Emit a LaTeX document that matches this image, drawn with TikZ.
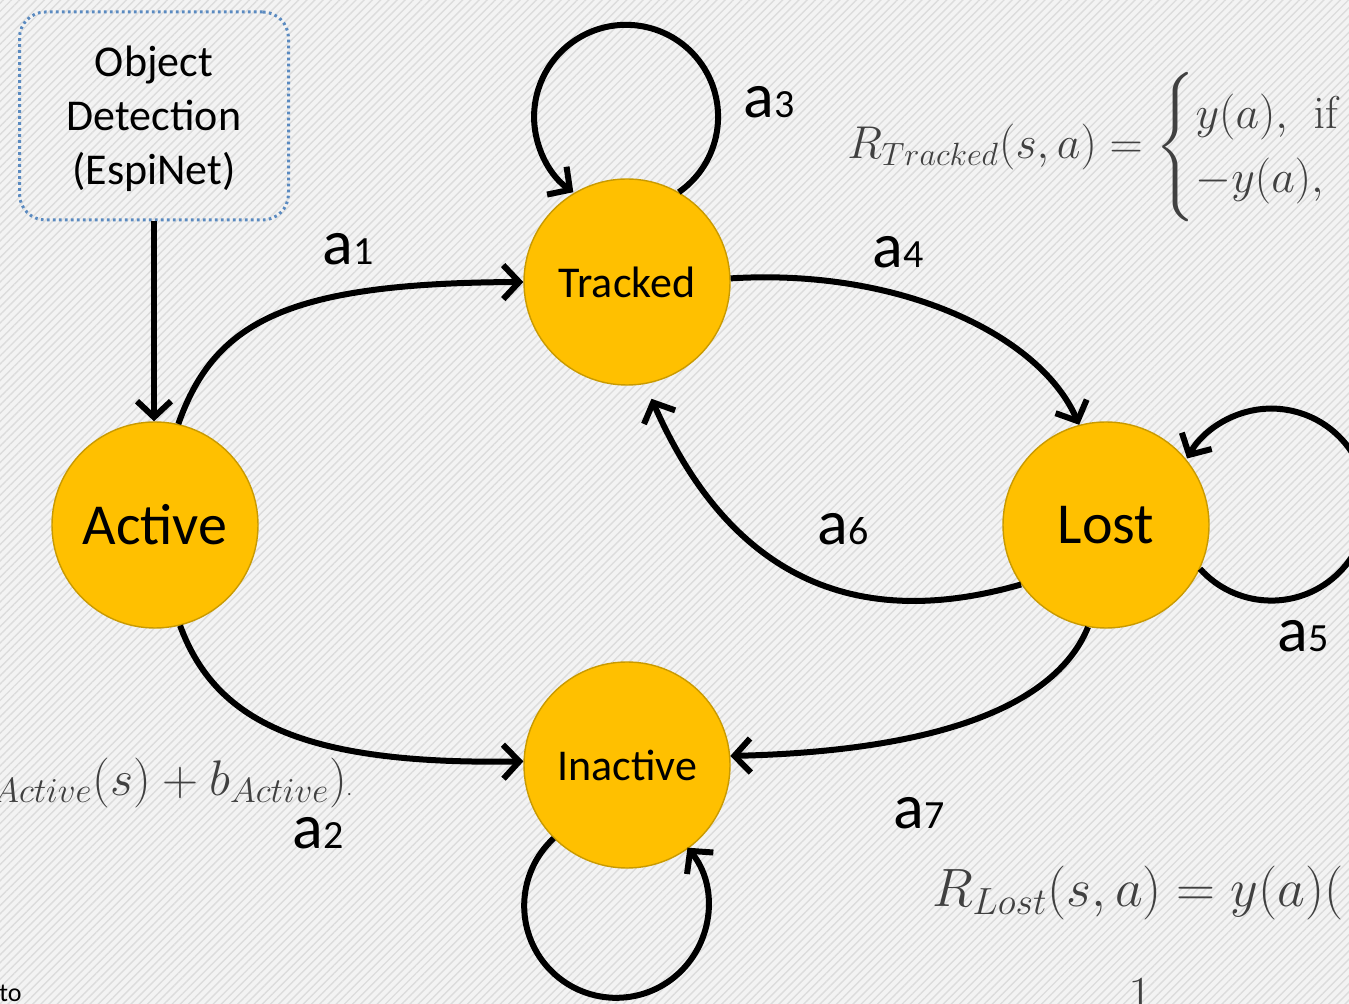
\RequirePackage{fix-cm}
\documentclass[tikz,border=0pt]{standalone}
\usepackage{amsmath}
\usepackage[no-math]{fontspec}
\setmainfont{Carlito}
\usetikzlibrary{arrows.meta,patterns.meta}
\definecolor{bgcol}{HTML}{F3F3F3}
\definecolor{hatch}{HTML}{DCDCDC}
\definecolor{gold}{HTML}{FFC000}
\definecolor{goldedge}{HTML}{C99A00}
\definecolor{boxblue}{HTML}{5A8AC0}
\definecolor{formula}{HTML}{404040}
\begin{document}
\begin{tikzpicture}[x=0.5pt,y=-0.5pt,
  state/.style={circle,fill=gold,draw=goldedge,line width=0.7pt,minimum size=103pt,inner sep=0pt},
  bigtxt/.style={font=\fontsize{29}{32}\selectfont},
  midtxt/.style={font=\fontsize{22}{26}\selectfont},
  arr/.style={line width=3pt,-{Straight Barb[length=8pt,width=17pt]}},
  lbl/.style={anchor=base west,inner sep=0pt,font=\fontsize{32}{36}\selectfont},
  eq/.style={text=formula,inner sep=0pt},
]
\useasboundingbox (0,0) rectangle (1349,1004);
\clip (0,0) rectangle (1349,1004);
\fill[bgcol] (0,0) rectangle (1349,1004);
\fill[pattern={Lines[angle=45,distance=2.9pt,line width=0.7pt]},pattern color=hatch] (0,0) rectangle (1349,1004);

% formulas
\node[eq,anchor=base west,font=\fontsize{23}{27}\selectfont] (rtr) at (847,159)
  {$R_{Tracked}(s,a)=\begin{cases}y(a),~\,\mathrm{if}~c\\ -y(a),~\,\mathrm{otherwise}\end{cases}$};
\node[eq,anchor=base west,font=\fontsize{27}{31}\selectfont] (rlost) at (932,906)
  {$R_{Lost}(s,a)=y(a)($};
\node[eq,anchor=base east,font=\fontsize{25}{29}\selectfont] (ract) at (352,795)
  {$\phi_{Active}(s)+b_{Active})${\fontsize{9}{9}\selectfont.}};
\node[eq,anchor=base,font=\fontsize{26}{30}\selectfont] (one) at (1140,1012) {$1$};
\node[anchor=base west,inner sep=0pt,font=\fontsize{13}{15}\selectfont] (to) at (-1,1001) {to};

% states
\node[state,bigtxt] (active) at (155,525) {Active};
\node[state,midtxt] (tracked) at (627,282) {Tracked};
\node[state,bigtxt] (lost) at (1106,525) {Lost};
\node[state,midtxt] (inactive) at (627,765) {Inactive};
\node[draw=boxblue,line width=1.5pt,dash pattern=on 1.3pt off 1.7pt,rounded corners=13pt,
      minimum width=134.5pt,minimum height=104pt,inner sep=0pt] (det) at (154,116) {};
\node[align=center,font=\fontsize{22}{27}\selectfont,inner sep=0pt] (dettext) at (154,119) {Object\\Detection\\(EspiNet)};

% connectors
\draw[arr] (det.south) -- (det.south |- active.north);
\draw[arr] (active.77) .. controls (215,320) and (290,283) .. (tracked.180);
\draw[arr] (active.-76) .. controls (215,720) and (300,765) .. (inactive.178);
\draw[arr] (tracked.60) arc[start angle=55, end angle=-235, radius=92];
\draw[arr] (tracked.2) .. controls (900,268) and (1040,335) .. (lost.105);
\draw[arr] (lost.-25) arc[start angle=138, end angle=-151.3, radius=96];
\draw[arr,shorten >=8pt] (lost.215) .. controls (880,625) and (740,600) .. (tracked.-80);
\draw[arr] (lost.-100) .. controls (1050,720) and (900,752) .. (inactive.5);
\draw[arr] (inactive.-135) arc[start angle=-132.8, end angle=-399.2, radius=92];

% labels
\node[lbl] (l1) at (322,265) {a{\fontsize{20}{20}\selectfont 1}};
\node[lbl] (l2) at (292,848) {a{\fontsize{20}{20}\selectfont 2}};
\node[lbl] (l3) at (743,118) {a{\fontsize{20}{20}\selectfont 3}};
\node[lbl] (l4) at (872,268) {a{\fontsize{20}{20}\selectfont 4}};
\node[lbl] (l5) at (1277,652) {a{\fontsize{20}{20}\selectfont 5}};
\node[lbl] (l6) at (817,545) {a{\fontsize{20}{20}\selectfont 6}};
\node[lbl] (l7) at (893,828) {a{\fontsize{20}{20}\selectfont 7}};
\end{tikzpicture}
\end{document}
